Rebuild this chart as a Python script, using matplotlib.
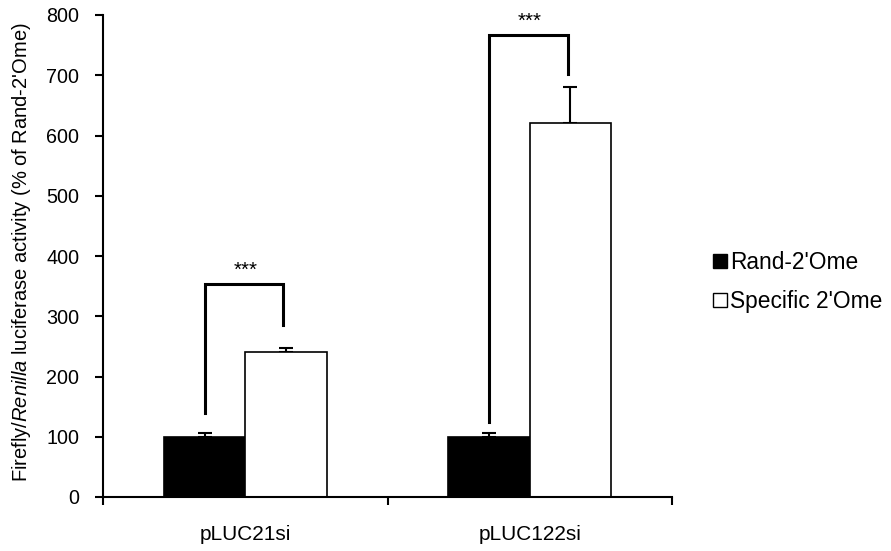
import matplotlib
matplotlib.use("Agg")
import matplotlib.pyplot as plt
from matplotlib.patches import Patch
import numpy as np

plt.rcParams['font.family'] = ['Liberation Sans', 'DejaVu Sans']
plt.rcParams['mathtext.fontset'] = 'custom'
plt.rcParams['mathtext.it'] = 'Liberation Sans:italic'
plt.rcParams['mathtext.rm'] = 'Liberation Sans'

categories = ["pLUC21si", "pLUC122si"]
series_names = ["Rand-2'Ome", "Specific 2'Ome"]
rand_vals = [100, 100]
rand_err = [6, 6]
spec_vals = [241, 620]
spec_err = [7, 61]
# significance brackets: (left bottom, top, right bottom)
bracket_left = [140, 124]
bracket_top = [353, 767]
bracket_right = [285, 702]
sig_labels = ["***", "***"]
yticks = [0, 100, 200, 300, 400, 500, 600, 700, 800]

fig = plt.figure(figsize=(8.91, 5.51), dpi=100)
ax = fig.add_axes([103/891, 1-497/551, (672-103)/891, (497-15)/551])

x = np.arange(len(categories))
w = 0.286
ax.bar(x - w/2, rand_vals, w, color='black', edgecolor='black', linewidth=1.2, zorder=2)
ax.bar(x + w/2, spec_vals, w, color='white', edgecolor='black', linewidth=1.2, zorder=2)
ax.errorbar(x - w/2, rand_vals, yerr=[np.zeros(2), rand_err], fmt='none', ecolor='black',
            elinewidth=1.5, capsize=5, capthick=1.5, zorder=1)
ax.errorbar(x + w/2, spec_vals, yerr=[np.zeros(2), spec_err], fmt='none', ecolor='black',
            elinewidth=1.5, capsize=5, capthick=1.5, zorder=1)

for i in range(len(categories)):
    xl = x[i] - w/2
    xr = x[i] + w/2 - 0.01
    ax.plot([xl, xl, xr, xr], [bracket_left[i], bracket_top[i], bracket_top[i], bracket_right[i]],
            color='black', linewidth=2.2, solid_joinstyle='miter', zorder=3)
    ax.text(x[i], bracket_top[i] + 14, sig_labels[i], ha='center', va='baseline', fontsize=14.8)

ax.set_xlim(-0.5, 1.5)
ax.set_ylim(0, 800)
ax.set_yticks(yticks)
ax.tick_params(axis='y', direction='out', length=6, width=1.5, labelsize=14.2, pad=11)
ax.set_xticks([-0.5, 0.5, 1.5])
ax.set_xticklabels([])
ax.set_xticks(x, minor=True)
ax.set_xticklabels(categories, minor=True)
ax.tick_params(axis='x', which='major', direction='out', length=6, width=1.5)
ax.tick_params(axis='x', which='minor', length=0, labelsize=15, pad=20)
for s in ['top', 'right']:
    ax.spines[s].set_visible(False)
for s in ['left', 'bottom']:
    ax.spines[s].set_linewidth(1.5)

ax.set_ylabel("Firefly/$\\it{Renilla}$ luciferase activity (% of Rand-2'Ome)", fontsize=14.5)
ax.yaxis.set_label_coords((33-103)/569, 0.508)

handles = [Patch(facecolor='black', edgecolor='black', linewidth=1.0),
           Patch(facecolor='white', edgecolor='black', linewidth=1.0)]
fig.legend(handles, series_names, loc='center left', bbox_to_anchor=(713/891, 1-282/551),
           frameon=False, fontsize=16.4, handlelength=0.6, handleheight=0.6,
           handletextpad=0.15, labelspacing=0.7, borderaxespad=0, borderpad=0)

fig.savefig("out.png", dpi=100)
